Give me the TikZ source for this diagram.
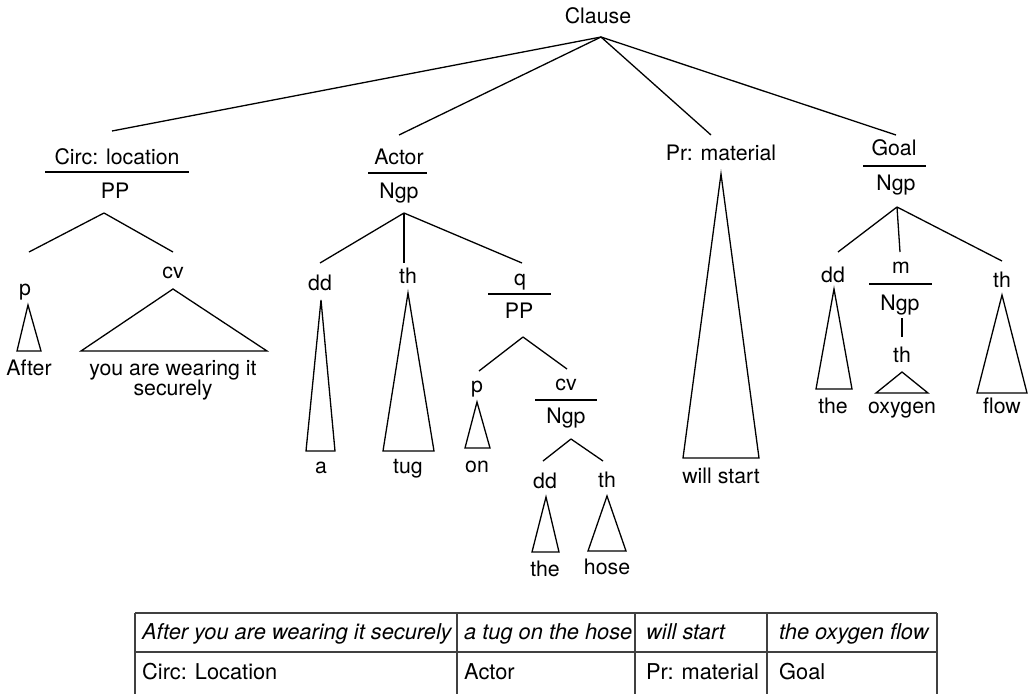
\documentclass[tikz,border=0pt]{standalone}
\usepackage{fontspec}
\setmainfont{TeX Gyre Heros}
\begin{document}
\begin{tikzpicture}[x=1pt,y=-1pt,
  lab/.style={font=\fontsize{21.3}{25}\selectfont, inner sep=0pt, anchor=base},
  cell/.style={font=\fontsize{21.8}{25}\selectfont, inner sep=0pt, anchor=base west},
  icell/.style={cell, font=\fontsize{21.8}{25}\selectfont\itshape},
  edge/.style={line width=1.3pt},
  rulebar/.style={line width=1.1pt},
  tri/.style={line width=1.3pt, line join=miter},
  grid/.style={line width=1.2pt, draw=black!75}]
\useasboundingbox (0,0) rectangle (1028,694);

% ---------- root ----------
\node[lab] (clause) at (598,23) {Clause};
\coordinate (clauseB) at (601,37);

% ---------- Circ: location ----------
\node[lab] (circ) at (117,164) {Circ: location};
\coordinate (circT) at (112,131);
\draw[rulebar] (45,172) -- (189,172);
\node[lab] (circPP) at (115,198) {PP};
\coordinate (circPPb) at (104,213);
\coordinate (p1T) at (29,252);
\coordinate (cv1T) at (173,252);
\node[lab] (p1) at (25,295) {p};
\draw[tri] (28,305) -- (17,351) -- (41,351) -- cycle;
\node[lab] (after) at (29,375) {After};
\node[lab] (cv1) at (173,278) {cv};
\draw[tri] (173,289) -- (81,351) -- (267,351) -- cycle;
\node[lab] (yawi) at (173,375) {you are wearing it};
\node[lab] (secur) at (173,395) {securely};

% ---------- Actor ----------
\node[lab] (actor) at (399,164) {Actor};
\coordinate (actorT) at (399,135);
\draw[rulebar] (368,173) -- (427,173);
\node[lab] (actorN) at (399,198) {Ngp};
\coordinate (actorNb) at (404,213);
\coordinate (dd1T) at (320,263);
\coordinate (th1T) at (404,263);
\coordinate (q1T) at (522,263);
\node[lab] (dd1) at (320,290) {dd};
\draw[tri] (321,300) -- (306,451) -- (335,451) -- cycle;
\node[lab] (a1) at (321,473) {a};
\node[lab] (th1) at (408,283) {th};
\draw[tri] (408,293) -- (383,451) -- (434,451) -- cycle;
\node[lab] (tug) at (408,473) {tug};
\node[lab] (q1) at (520,285) {q};
\draw[rulebar] (488,294) -- (551,294);
\node[lab] (qPP) at (519,318) {PP};
\coordinate (qPPb) at (523,337);
\coordinate (p2T) at (479,371);
\coordinate (cv2T) at (567,369);
\node[lab] (p2) at (477,392) {p};
\draw[tri] (477,402) -- (465,448) -- (490,448) -- cycle;
\node[lab] (on) at (477,472) {on};
\node[lab] (cv2) at (566,390) {cv};
\draw[rulebar] (535,400) -- (597,400);
\node[lab] (cvN) at (566,423) {Ngp};
\coordinate (cvNb) at (571,439);
\coordinate (dd2T) at (543,461);
\coordinate (th2T) at (603,461);
\node[lab] (dd2) at (545,488) {dd};
\draw[tri] (546,497) -- (532,552) -- (559,552) -- cycle;
\node[lab] (the2) at (545,576) {the};
\node[lab] (th2) at (607,487) {th};
\draw[tri] (607,496) -- (588,551) -- (626,551) -- cycle;
\node[lab] (hose) at (607,574) {hose};

% ---------- Pr: material ----------
\node[lab] (pr) at (721,160) {Pr: material};
\coordinate (prT) at (711,135);
\draw[tri] (721,174) -- (683,458) -- (759,458) -- cycle;
\node[lab] (wills) at (721,483) {will start};

% ---------- Goal ----------
\node[lab] (goal) at (894,155) {Goal};
\coordinate (goalT) at (896,135);
\draw[rulebar] (863,166) -- (926,166);
\node[lab] (goalN) at (896,190) {Ngp};
\coordinate (goalNb) at (897,207);
\coordinate (dd3T) at (838,252);
\coordinate (m3T) at (900,252);
\coordinate (th3T) at (1002,261);
\node[lab] (dd3) at (833,282) {dd};
\draw[tri] (834,289) -- (816,389) -- (852,389) -- cycle;
\node[lab] (the3) at (833,413) {the};
\node[lab] (m3) at (901,273) {m};
\draw[rulebar] (869,284) -- (932,284);
\node[lab] (mN) at (900,310) {Ngp};
\coordinate (mNb) at (902,318);
\coordinate (th4T) at (902,337);
\node[lab] (th4) at (902,362) {th};
\draw[tri] (902,372) -- (876,393) -- (928,393) -- cycle;
\node[lab] (oxy) at (902,413) {oxygen};
\node[lab] (th3) at (1002,287) {th};
\draw[tri] (1002,295) -- (977,393) -- (1027,393) -- cycle;
\node[lab] (flow) at (1002,413) {flow};

% ---------- connectors ----------
\draw[edge] (clauseB) -- (circT);
\draw[edge] (clauseB) -- (actorT);
\draw[edge] (clauseB) -- (prT);
\draw[edge] (clauseB) -- (goalT);
\draw[edge] (circPPb) -- (p1T);
\draw[edge] (circPPb) -- (cv1T);
\draw[edge] (actorNb) -- (dd1T);
\draw[edge] (actorNb) -- (th1T);
\draw[edge] (actorNb) -- (q1T);
\draw[edge] (qPPb) -- (p2T);
\draw[edge] (qPPb) -- (cv2T);
\draw[edge] (cvNb) -- (dd2T);
\draw[edge] (cvNb) -- (th2T);
\draw[edge] (goalNb) -- (dd3T);
\draw[edge] (goalNb) -- (m3T);
\draw[edge] (goalNb) -- (th3T);
\draw[edge] (mNb) -- (th4T);

% ---------- table ----------
\draw[grid] (135,613) -- (937,613);
\draw[grid] (135,652) -- (937,652);
\foreach \cx in {135,457,635,767,937} \draw[grid] (\cx,613) -- (\cx,694);
\node[icell] (r1a) at (142,639) {After you are wearing it securely};
\node[icell] (r1b) at (464,639) {a tug on the hose};
\node[icell] (r1c) at (646,639) {will start};
\node[icell] (r1d) at (779,639) {the oxygen flow};
\node[cell] (r2a) at (142,679) {Circ: Location};
\node[cell] (r2b) at (464,679) {Actor};
\node[cell] (r2c) at (646,679) {Pr: material};
\node[cell] (r2d) at (779,679) {Goal};
\end{tikzpicture}
\end{document}
